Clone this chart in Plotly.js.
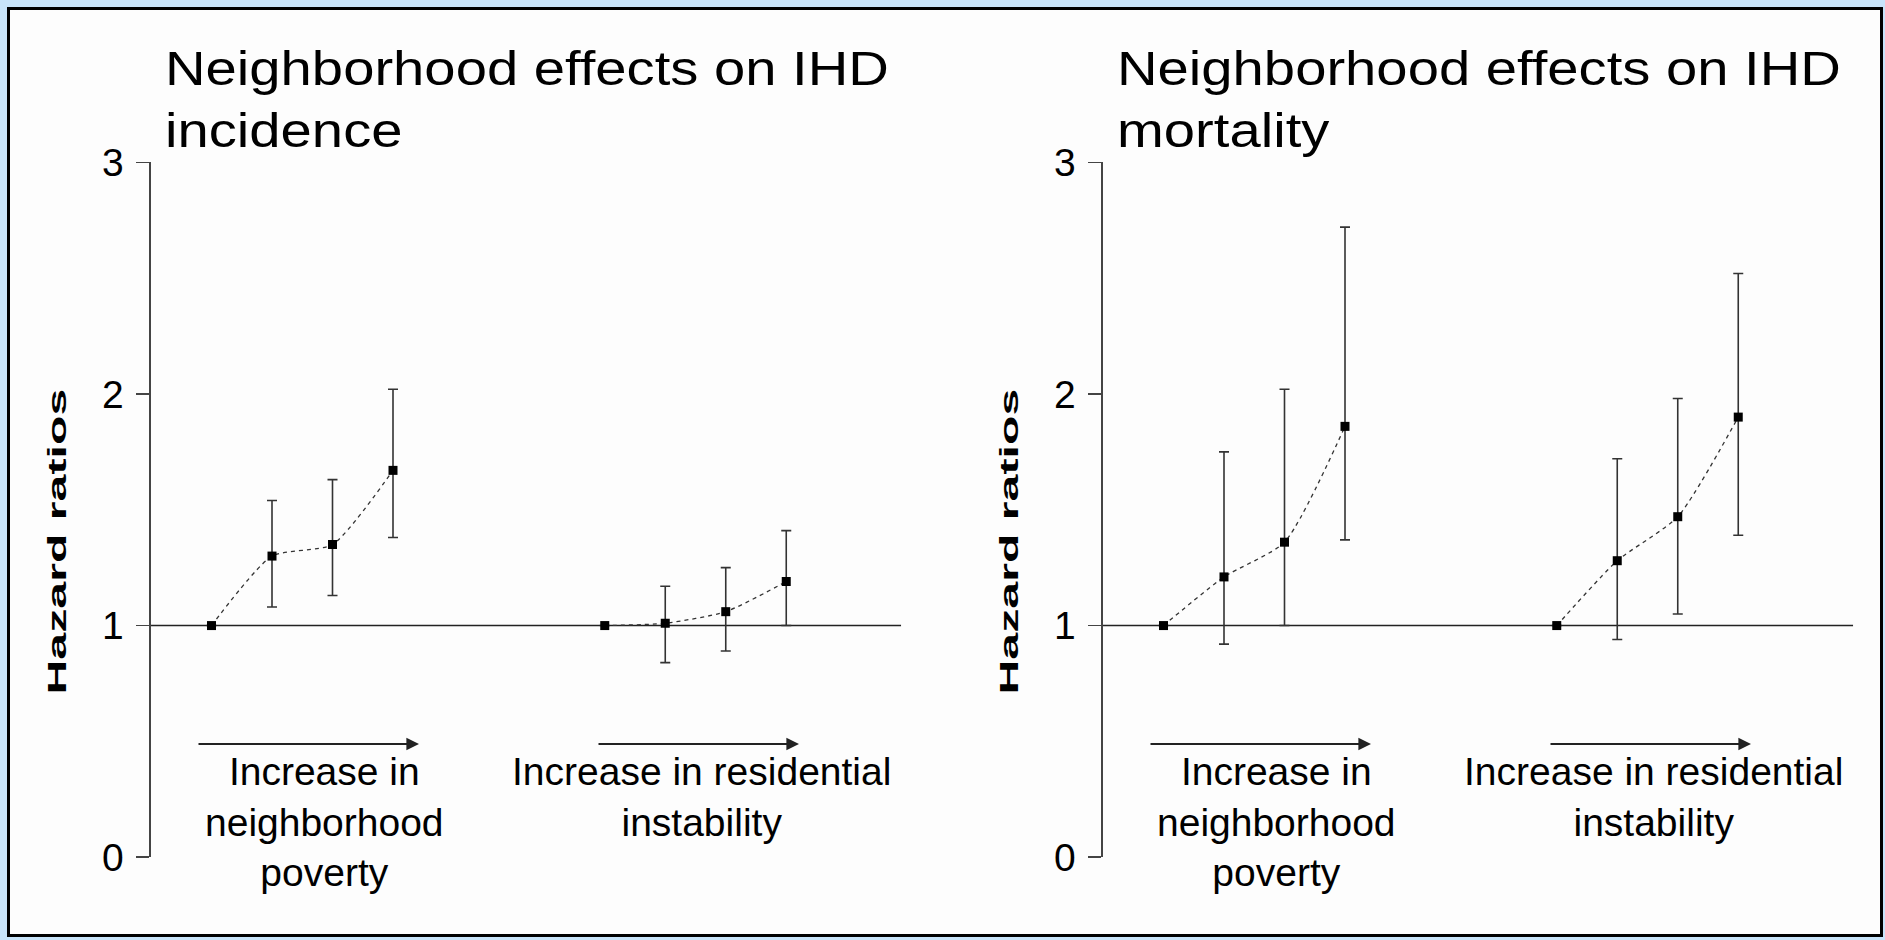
<!DOCTYPE html>
<html>
<head>
<meta charset="utf-8">
<script src="https://cdn.plot.ly/plotly-3.0.1.min.js"></script>
<style>
html,body{margin:0;padding:0;background:#c8e4fa;}
#chart{width:1885px;height:940px;}
</style>
</head>
<body>
<div id="chart"></div>
<script>
// ---- Data ----
var groupPositions = [1, 2, 3, 4];            // quartile positions, poverty group
var groupPositions2 = [7.5, 8.5, 9.5, 10.5];  // quartile positions, instability group
var yTicks = [0, 1, 2, 3];

var panelTitles = ["Neighborhood effects on IHD<br>incidence", "Neighborhood effects on IHD<br>mortality"];
var groupLabels = ["Increase in<br>neighborhood<br>poverty", "Increase in residential<br>instability"];
var yLabel = "Hazard ratios";

// Incidence panel
var incPovertyHR = [1.00, 1.30, 1.35, 1.67];
var incPovertyLo = [1.00, 1.08, 1.13, 1.38];
var incPovertyHi = [1.00, 1.54, 1.63, 2.02];
var incInstabHR  = [1.00, 1.01, 1.06, 1.19];
var incInstabLo  = [1.00, 0.84, 0.89, 1.00];
var incInstabHi  = [1.00, 1.17, 1.25, 1.41];

// Mortality panel
var morPovertyHR = [1.00, 1.21, 1.36, 1.86];
var morPovertyLo = [1.00, 0.92, 1.00, 1.37];
var morPovertyHi = [1.00, 1.75, 2.02, 2.72];
var morInstabHR  = [1.00, 1.28, 1.47, 1.90];
var morInstabLo  = [1.00, 0.94, 1.05, 1.39];
var morInstabHi  = [1.00, 1.72, 1.98, 2.52];

// ---- Layout helpers ----
var W = 1885, H = 940;
function fx(px){ return px / W; }
function fy(py){ return 1 - py / H; }
var FONT = "Arial, 'Liberation Sans', sans-serif";
var xRange = [0, 12.4];

function makeTrace(x, hr, lo, hi, xa, ya){
  return {
    type: "scatter", mode: "lines+markers",
    x: x, y: hr, xaxis: xa, yaxis: ya,
    line: {color: "#333", width: 1.3, dash: "4px,4px", shape: "spline", smoothing: 0.6},
    marker: {symbol: "square", size: 9, color: "#000"},
    error_y: {
      type: "data", symmetric: false,
      array: hi.map(function(v, i){ return v - hr[i]; }),
      arrayminus: lo.map(function(v, i){ return hr[i] - v; }),
      color: "#333", thickness: 1.6, width: 5
    },
    hoverinfo: "skip", showlegend: false
  };
}

var data = [
  makeTrace(groupPositions, incPovertyHR, incPovertyLo, incPovertyHi, "x", "y"),
  makeTrace(groupPositions2, incInstabHR, incInstabLo, incInstabHi, "x", "y"),
  makeTrace(groupPositions, morPovertyHR, morPovertyLo, morPovertyHi, "x2", "y2"),
  makeTrace(groupPositions2, morInstabHR, morInstabLo, morInstabHi, "x2", "y2")
];

var yDomain = [fy(857.2), fy(162.3)];
function yAxisDef(anchor){
  return {
    domain: yDomain, anchor: anchor, range: [0, 3],
    tickvals: yTicks, ticktext: yTicks.map(String),
    ticks: "outside", ticklen: 13, tickwidth: 1.5, tickcolor: "#444",
    showline: true, linewidth: 1.6, linecolor: "#444",
    showgrid: false, zeroline: false, ticklabelstandoff: 5,
    tickfont: {family: FONT, size: 39, color: "#000"}
  };
}
function xAxisDef(left, anchor){
  return {
    domain: [fx(left), fx(left + 12.4 * 60.5)], anchor: anchor, range: xRange,
    visible: false, showgrid: false, zeroline: false
  };
}

var panels = [
  {left: 151, xa: "x", ya: "y", dx: 0},
  {left: 1103, xa: "x2", ya: "y2", dx: 952}
];

var shapes = [
  {type: "rect", xref: "paper", yref: "paper", x0: fx(8.5), x1: fx(1881.5), y0: fy(935.5), y1: fy(8.5),
   line: {color: "#000", width: 3}, fillcolor: "#fdfdfd", layer: "below"}
];
var annotations = [];
var titleIdx = [], yLabelIdx = [];

panels.forEach(function(p, i){
  shapes.push({type: "line", xref: p.xa, yref: p.ya, x0: 0, x1: 12.4, y0: 1, y1: 1,
    line: {color: "#222", width: 1.6}, layer: "below"});
  titleIdx.push(annotations.length);
  annotations.push({xref: "paper", yref: "paper", x: fx(163 + p.dx), y: fy(40), xanchor: "left", yanchor: "top",
    text: panelTitles[i], showarrow: false, align: "left",
    font: {family: FONT, size: 48, color: "#000"}});
  yLabelIdx.push(annotations.length);
  annotations.push({xref: "paper", yref: "paper", x: fx(57 + p.dx), y: fy(542), xanchor: "center", yanchor: "middle",
    text: "<b>" + yLabel + "</b>", textangle: -90, showarrow: false,
    font: {family: FONT, size: 26, color: "#000"}});
  // group labels
  annotations.push({xref: "paper", yref: "paper", x: fx(324 + p.dx), y: fy(748), xanchor: "center", yanchor: "top",
    text: groupLabels[0], showarrow: false, align: "center",
    font: {family: FONT, size: 39, color: "#000"}});
  annotations.push({xref: "paper", yref: "paper", x: fx(701 + p.dx), y: fy(748), xanchor: "center", yanchor: "top",
    text: groupLabels[1], showarrow: false, align: "center",
    font: {family: FONT, size: 39, color: "#000"}});
  // arrows
  annotations.push({xref: "paper", yref: "paper", x: fx(419 + p.dx), y: fy(744), ax: -222, ay: 0,
    axref: "pixel", ayref: "pixel", text: "", showarrow: true,
    arrowhead: 2, arrowsize: 1.4, arrowwidth: 1.8, arrowcolor: "#222"});
  annotations.push({xref: "paper", yref: "paper", x: fx(799 + p.dx), y: fy(744), ax: -202, ay: 0,
    axref: "pixel", ayref: "pixel", text: "", showarrow: true,
    arrowhead: 2, arrowsize: 1.4, arrowwidth: 1.8, arrowcolor: "#222"});
});

var layout = {
  width: W, height: H,
  margin: {l: 0, r: 0, t: 0, b: 0},
  paper_bgcolor: "#c8e4fa", plot_bgcolor: "rgba(0,0,0,0)",
  showlegend: false,
  xaxis: xAxisDef(151, "y"),
  yaxis: yAxisDef("x"),
  xaxis2: xAxisDef(1103, "y2"),
  yaxis2: yAxisDef("x2"),
  shapes: shapes,
  annotations: annotations,
  font: {family: FONT}
};

// The slide's text is stretched: widen the titles and lengthen the rotated axis labels.
function stretchAnnotation(gd, idx, sx, sy, ax, ay){
  var g = gd.querySelector('g.annotation[data-index="' + idx + '"]');
  if(!g) return;
  var t = g.querySelector('text');
  var r = t.getBoundingClientRect();
  var svgR = gd.querySelector('svg.main-svg').getBoundingClientRect();
  var px = (ax === 'left' ? r.left : r.left + r.width / 2) - svgR.left;
  var py = (ay === 'top' ? r.top : r.top + r.height / 2) - svgR.top;
  g.setAttribute('transform', 'translate(' + px + ',' + py + ') scale(' + sx + ',' + sy + ') translate(' + (-px) + ',' + (-py) + ')');
}

Plotly.newPlot("chart", data, layout, {displayModeBar: false, staticPlot: true}).then(function(gd){
  titleIdx.forEach(function(i){
    var t = gd.querySelector('g.annotation[data-index="' + i + '"] text');
    var w = 0;
    t.querySelectorAll('tspan.line').forEach(function(s){ w = Math.max(w, s.getComputedTextLength()); });
    var k = w > 0 ? 724 / w : 1;
    stretchAnnotation(gd, i, k, 1, 'left', 'top');
  });
  yLabelIdx.forEach(function(i){
    var t = gd.querySelector('g.annotation[data-index="' + i + '"] text');
    var len = t.getComputedTextLength();
    var k = len > 0 ? 306 / len : 1;
    stretchAnnotation(gd, i, 1, k, 'center', 'center');
  });
});
</script>
</body>
</html>
